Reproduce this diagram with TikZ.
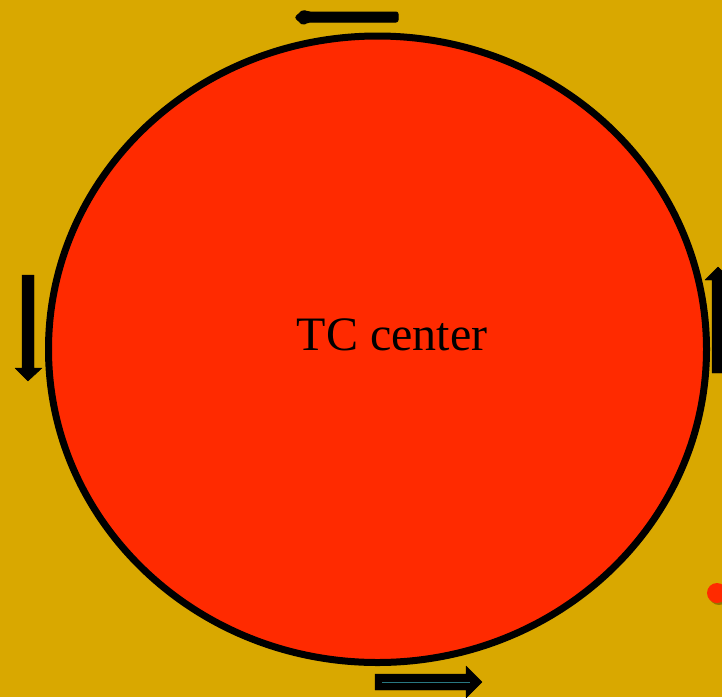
\documentclass[tikz,border=0pt]{standalone}
\usepackage{fontspec}
\usetikzlibrary{shapes.geometric}
\setmainfont{Liberation Serif}
\definecolor{bg}{RGB}{217,168,0}
\definecolor{tcred}{RGB}{255,42,0}
\definecolor{teal2}{RGB}{40,120,130}
\begin{document}
\begin{tikzpicture}[x=1pt,y=-1pt,
  arrowshape/.style={fill=black,draw=black,line join=round}]
\useasboundingbox (0,0) rectangle (722,697);
\fill[bg] (0,0) rectangle (722,697);
% storm
\node[ellipse,draw=black,line width=7pt,fill=tcred,inner sep=0pt,
  minimum width=658pt,minimum height=626.5pt] (c) at (377.5,349.25) {};
% text
\node[text=black,font=\fontsize{48}{52}\selectfont] (t) at (392,335) {TC center};
% top arrow (pointing left)
\fill[arrowshape,line width=1pt,rounded corners=2pt] (398,12) -- (398,22) -- (308,22) -- (303,25) -- (295,17.5) -- (303,10) -- (308,12) -- cycle;
% left arrow (down)
\fill[arrowshape] (22,275) -- (34,275) -- (34,368) -- (42,368) -- (28,381) -- (15,368) -- (22,368) -- cycle;
% right arrow (up, cut off)
\fill[arrowshape] (712,373) -- (724,373) -- (724,280) -- (731,280) -- (718,267) -- (705,280) -- (712,280) -- cycle;
% bottom arrow (right, double)
\fill[arrowshape] (375,674) -- (466,674) -- (466,666) -- (482,682) -- (466,698) -- (466,690) -- (375,690) -- cycle;
\draw[teal2,line width=0.8pt] (382,682) -- (470,682);
% red dot
\fill[black,opacity=0.3] (719,595) circle (10);
\fill[tcred] (717,593) circle (10);
\end{tikzpicture}
\end{document}
